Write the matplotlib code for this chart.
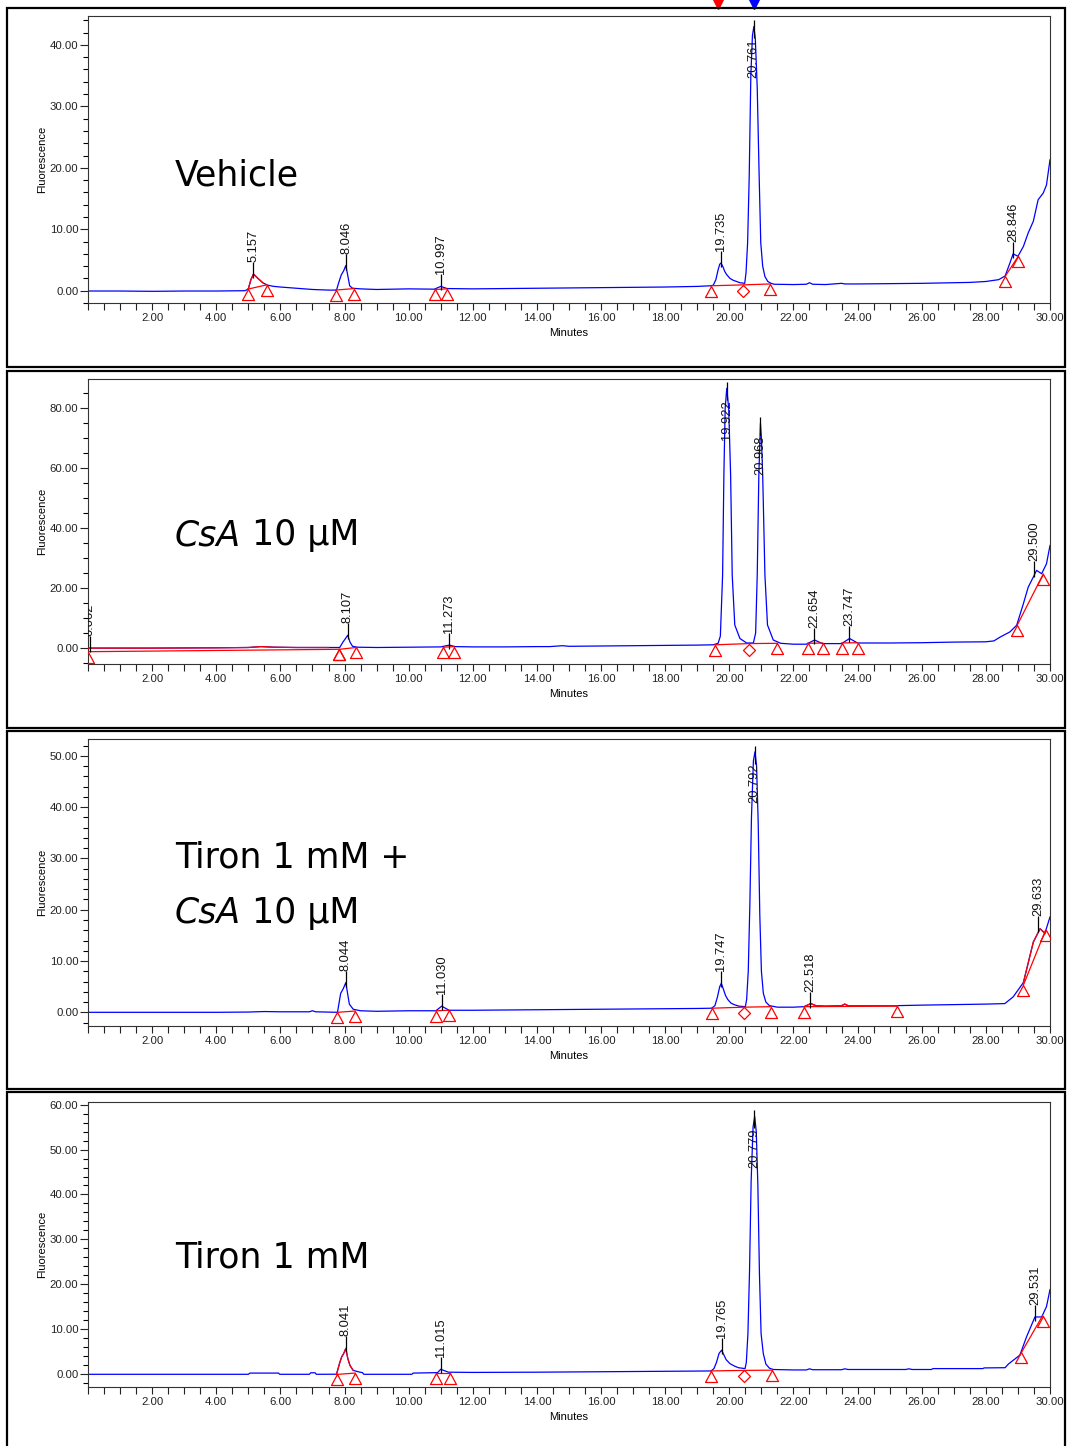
import matplotlib
matplotlib.use("Agg")
import matplotlib.pyplot as plt
import numpy as np
from matplotlib.path import Path
from matplotlib.patches import Rectangle
from matplotlib.ticker import MultipleLocator, FixedLocator, FormatStrFormatter
from matplotlib.transforms import offset_copy, blended_transform_factory

plt.rcParams['font.family'] = ['Liberation Sans', 'DejaVu Sans']

# ---- data (minutes, fluorescence) ----
veh_t = [0.0, 1.0, 2.0, 3.0, 4.0, 4.9, 5.0, 5.08, 5.16, 5.3, 5.45, 5.6, 5.8, 6.0, 6.5,
         7.0, 7.5, 7.75, 7.83, 7.9, 7.97, 8.04, 8.1, 8.16, 8.25, 8.5, 9.0, 10.0, 10.8, 11.0,
         11.2, 12.0, 14.0, 16.0, 18.0, 19.0, 19.4, 19.5, 19.58, 19.65, 19.7, 19.74, 19.8, 19.86, 19.92,
         20.02, 20.12, 20.33, 20.48, 20.52, 20.57, 20.62, 20.67, 20.72, 20.765, 20.81, 20.87, 20.93, 20.98, 21.04,
         21.11, 21.2, 21.3, 21.4, 22.0, 22.4, 22.5, 22.6, 23.0, 23.5, 23.6, 24.0, 25.0, 26.0, 27.0,
         27.5, 28.0, 28.4, 28.6, 28.75, 28.85, 29.0, 29.17, 29.32, 29.48, 29.63, 29.79, 29.89, 30.0]
veh_v = [-0.05, -0.05, -0.1, -0.05, -0.05, 0.0, 0.3, 1.8, 2.7, 2.0, 1.3, 0.9, 0.7, 0.6, 0.4,
         0.2, 0.1, 0.1, 1.5, 2.6, 3.2, 4.1, 2.5, 0.8, 0.4, 0.3, 0.2, 0.3, 0.25, 0.7,
         0.35, 0.3, 0.4, 0.5, 0.6, 0.7, 0.8, 0.9, 1.8, 3.4, 4.3, 4.5, 3.9, 3.1, 2.6,
         2.0, 1.7, 1.3, 1.2, 2.9, 7.8, 18.6, 34.9, 41.5, 43.0, 41.0, 33.0, 18.6, 7.8, 4.0,
         2.3, 1.5, 1.2, 1.05, 1.0, 1.05, 1.3, 1.05, 1.0, 1.2, 1.1, 1.1, 1.15, 1.2, 1.3,
         1.35, 1.5, 1.8, 2.4, 4.5, 6.0, 5.6, 7.2, 9.4, 11.3, 14.8, 15.9, 17.2, 21.3]

csa_t = [0.0, 1.0, 2.0, 3.0, 4.0, 5.0, 5.4, 5.8, 6.5, 7.5, 7.85, 7.95, 8.03, 8.1, 8.17,
         8.25, 8.4, 9.0, 10.0, 11.0, 11.27, 11.45, 12.0, 13.0, 14.0, 14.4, 14.8, 15.0, 16.0, 17.0,
         18.0, 19.0, 19.5, 19.65, 19.72, 19.79, 19.83, 19.87, 19.92, 19.98, 20.04, 20.09, 20.17, 20.33, 20.54,
         20.75, 20.82, 20.87, 20.92, 20.97, 21.0, 21.04, 21.11, 21.19, 21.37, 21.6, 22.0, 22.4, 22.66, 22.9,
         23.5, 23.75, 24.0, 25.0, 26.0, 27.0, 28.0, 28.25, 28.45, 28.75, 28.96, 29.17, 29.32, 29.48, 29.58,
         29.74, 29.89, 30.0]
csa_v = [0.0, 0.0, 0.0, 0.05, 0.1, 0.2, 0.5, 0.3, 0.2, 0.2, 0.2, 2.0, 3.2, 4.3, 2.0,
         0.6, 0.3, 0.2, 0.3, 0.4, 1.0, 0.5, 0.4, 0.4, 0.5, 0.5, 0.8, 0.6, 0.7, 0.8,
         0.9, 1.0, 1.1, 1.6, 4.0, 24.3, 57.7, 79.9, 86.6, 79.9, 57.7, 24.3, 7.7, 3.2, 1.7,
         1.7, 5.0, 24.3, 57.7, 74.9, 70.0, 57.7, 24.3, 7.7, 2.7, 1.6, 1.3, 1.3, 2.7, 1.5,
         1.5, 3.2, 1.7, 1.7, 1.8, 2.0, 2.1, 2.4, 3.7, 5.4, 7.6, 14.8, 20.3, 23.7, 25.9,
         24.8, 28.1, 34.2]

tc_t = [0.0, 2.0, 4.0, 5.0, 5.5, 6.0, 6.9, 7.0, 7.1, 7.78, 7.88, 7.96, 8.04, 8.1, 8.15,
        8.27, 8.5, 9.0, 10.0, 10.85, 11.03, 11.26, 12.0, 14.0, 16.0, 18.0, 19.0, 19.45, 19.55, 19.63,
        19.7, 19.75, 19.81, 19.88, 19.95, 20.05, 20.15, 20.3, 20.5, 20.54, 20.59, 20.64, 20.69, 20.75, 20.8,
        20.85, 20.9, 20.95, 21.0, 21.06, 21.14, 21.25, 21.5, 22.0, 22.33, 22.54, 22.7, 23.0, 23.5, 23.6,
        23.7, 24.5, 25.24, 26.0, 27.0, 28.0, 28.59, 28.85, 29.17, 29.48, 29.69, 29.84, 30.0]
tc_v = [0.0, 0.0, 0.0, 0.05, 0.15, 0.1, 0.1, 0.3, 0.1, 0.0, 3.7, 4.6, 5.8, 3.5, 1.6,
        0.6, 0.3, 0.2, 0.3, 0.3, 1.2, 0.4, 0.4, 0.5, 0.6, 0.7, 0.75, 0.8, 1.3, 3.0,
        5.0, 5.65, 4.6, 3.3, 2.5, 1.8, 1.5, 1.2, 1.1, 2.5, 8.0, 21.0, 38.0, 49.0, 50.8,
        48.0, 37.0, 19.0, 8.0, 3.7, 2.0, 1.3, 1.0, 1.0, 1.1, 1.7, 1.3, 1.2, 1.3, 1.6,
        1.3, 1.3, 1.3, 1.4, 1.5, 1.6, 1.7, 3.0, 5.8, 13.7, 16.3, 15.4, 18.6]

ti_t = [0.0, 5.0, 5.05, 5.94, 5.98, 6.9, 6.95, 7.08, 7.12, 7.75, 7.85, 7.91, 7.97, 8.04, 8.1,
        8.17, 8.27, 8.48, 8.56, 8.6, 10.1, 10.14, 10.9, 11.0, 11.24, 12.0, 14.0, 16.0, 18.0, 19.0,
        19.43, 19.52, 19.6, 19.68, 19.76, 19.82, 19.9, 20.02, 20.15, 20.28, 20.49, 20.53, 20.58, 20.63, 20.68,
        20.74, 20.79, 20.84, 20.89, 20.94, 20.99, 21.06, 21.14, 21.25, 21.37, 22.0, 22.4, 22.5, 22.6, 23.5,
        23.6, 23.7, 25.5, 25.6, 25.7, 26.3, 26.35, 27.9, 27.95, 28.6, 28.7, 29.06, 29.27, 29.53, 29.74,
        29.89, 30.0]
ti_v = [-0.07, -0.07, 0.2, 0.2, -0.07, -0.07, 0.27, 0.27, -0.07, -0.05, 2.5, 3.8, 4.5, 5.7, 3.5,
        1.9, 0.8, 0.4, 0.3, -0.07, -0.07, 0.2, 0.3, 1.05, 0.4, 0.35, 0.4, 0.5, 0.6, 0.65,
        0.68, 1.2, 2.6, 4.6, 5.3, 4.4, 3.2, 2.3, 1.8, 1.4, 1.2, 2.6, 9.0, 23.0, 43.0,
        55.0, 57.4, 54.0, 42.0, 22.0, 9.0, 4.5, 2.2, 1.3, 1.0, 0.9, 0.9, 1.15, 0.95, 0.95,
        1.15, 1.0, 1.0, 1.15, 1.0, 1.0, 1.2, 1.2, 1.35, 1.4, 2.2, 4.2, 8.3, 12.7, 12.7,
        15.0, 18.8]

# integration baselines: ends = triangles, interior points = drop lines (diamonds)
veh_base = [[(4.98, 0.25), (5.57, 0.95)], [(7.72, 0.1), (8.30, 0.35)],
            [(10.82, 0.2), (11.19, 0.3)], [(19.43, 0.8), (20.43, 0.95), (21.27, 1.1)],
            [(28.61, 2.4), (29.01, 5.6)]]
csa_base = [[(0.0, -1.2), (7.84, -0.4)], [(7.84, -0.4), (8.36, 0.2)],
            [(11.08, 0.3), (11.41, 0.5)], [(19.55, 1.1), (20.61, 1.5), (21.5, 1.6)],
            [(22.44, 1.6), (22.91, 1.7)], [(23.5, 1.7), (24.0, 1.8)],
            [(28.98, 7.7), (29.79, 24.7)]]
tc_base = [[(7.78, 0.0), (8.33, 0.25)], [(10.85, 0.3), (11.26, 0.4)],
           [(19.45, 0.8), (20.47, 1.0), (21.3, 1.1)], [(22.33, 1.1), (25.24, 1.2)],
           [(29.17, 5.3), (29.86, 16.0)]]
ti_base = [[(7.75, -0.1), (8.33, 0.2)], [(10.84, 0.2), (11.29, 0.2)],
           [(19.43, 0.68), (20.47, 0.8), (21.34, 0.85)], [(29.11, 4.8), (29.77, 13.0)]]

# peak ranges drawn in red
veh_red = [(4.98, 5.57)]
csa_red = [(0.0, 7.84)]
tc_red = [(22.33, 25.24), (29.17, 29.86)]
ti_red = [(7.75, 8.33)]

# retention time labels (rt, apex)
veh_peaks = [(5.157, 2.7), (8.046, 4.1), (10.997, 0.7), (19.735, 4.5), (20.761, 43.0), (28.846, 6.0)]
csa_peaks = [(0.062, 0.1), (8.107, 4.3), (11.273, 1.0), (19.922, 86.6), (20.968, 74.9),
             (22.654, 2.7), (23.747, 3.2), (29.500, 25.0)]
tc_peaks = [(8.044, 5.8), (11.030, 1.2), (19.747, 5.65), (20.792, 50.8), (22.518, 1.6), (29.633, 16.4)]
ti_peaks = [(8.041, 5.7), (11.015, 1.05), (19.765, 5.3), (20.779, 57.4), (29.531, 12.7)]
tall_peaks = [20.761, 19.922, 20.968, 20.792, 20.779]

event_times = [19.65, 20.77]
event_colors = ['red', 'blue']

W, H = 1067, 1446
fig = plt.figure(figsize=(W / 100, H / 100), dpi=100)

# markers hanging below their point (1 path unit = 1 px)
tri = Path([(0, 0), (-6, -11), (6, -11), (0, 0)], closed=True)
dia = Path([(0, 0), (-6, -6), (0, -12), (6, -6), (0, 0)], closed=True)
tick_up = Path([(0, -4), (0, 12)])
tick_dn = Path([(0, 6), (0, -12)])

panels = [
    dict(t=veh_t, v=veh_v, base=veh_base, red=veh_red, peaks=veh_peaks,
         px=(16, 303), box=(8, 367), ylim=(-2, 44.7), major=10, minor=2,
         title=[(185, [("Vehicle", False)])]),
    dict(t=csa_t, v=csa_v, base=csa_base, red=csa_red, peaks=csa_peaks,
         px=(379, 664), box=(371, 728), ylim=(-5.3, 89.7), major=20, minor=5,
         title=[(545, [("CsA", True), (" 10 μM", False)])]),
    dict(t=tc_t, v=tc_v, base=tc_base, red=tc_red, peaks=tc_peaks,
         px=(739, 1026), box=(731, 1089), ylim=(-2.67, 53.3), major=10, minor=2,
         title=[(868, [("Tiron 1 mM +", False)]), (923, [("CsA", True), (" 10 μM", False)])]),
    dict(t=ti_t, v=ti_v, base=ti_base, red=ti_red, peaks=ti_peaks,
         px=(1102, 1387), box=(1092, 1470), ylim=(-2.9, 60.6), major=10, minor=2,
         title=[(1268, [("Tiron 1 mM", False)])]),
]

axes = []
for p in panels:
    top, bot = p['px']
    ax = fig.add_axes([88 / W, 1 - bot / H, (1050 - 88) / W, (bot - top) / H])
    axes.append(ax)
    t = np.array(p['t'])
    v = np.array(p['v'])

    ax.plot(t, v, color='#0000ff', lw=0.9, zorder=2)
    for a, b in p['red']:
        m = (t >= a) & (t <= b)
        ax.plot(t[m], v[m], color='#ff0000', lw=0.9, zorder=3)

    for seg in p['base']:
        xs, ys = zip(*seg)
        ax.plot(xs, ys, color='#ff0000', lw=0.9, zorder=3)
        ax.plot([xs[0], xs[-1]], [ys[0], ys[-1]], ls='none', marker=tri, ms=15.84,
                mfc='none', mec='#ff0000', mew=0.9, zorder=4)
        if len(seg) > 2:
            ax.plot(xs[1:-1], ys[1:-1], ls='none', marker=dia, ms=17.28,
                    mfc='none', mec='#ff0000', mew=0.9, zorder=4)

    for rt, apex in p['peaks']:
        down = rt in tall_peaks
        ax.plot([rt], [apex], ls='none', marker=tick_dn if down else tick_up, ms=17.28,
                mec='black', mew=0.9, zorder=5)
        dy = -12 if down else 12
        tr = offset_copy(ax.transData, fig=fig, x=0, y=dy, units='dots')
        txt = ax.text(rt, apex, f"{rt:.3f}", rotation=90, ha='center',
                      va='top' if down else 'bottom', fontsize=9.3, color='#111111',
                      transform=tr, zorder=6)
        txt.set_clip_box(ax.bbox)
        txt.set_clip_on(True)

    ax.set_xlim(0, 30)
    ax.set_ylim(*p['ylim'])
    ax.xaxis.set_major_locator(FixedLocator(np.arange(2, 31, 2)))
    ax.xaxis.set_minor_locator(MultipleLocator(0.5))
    ax.yaxis.set_major_locator(MultipleLocator(p['major']))
    ax.yaxis.set_minor_locator(MultipleLocator(p['minor']))
    ax.xaxis.set_major_formatter(FormatStrFormatter('%.2f'))
    ax.yaxis.set_major_formatter(FormatStrFormatter('%.2f'))
    ax.tick_params(axis='x', which='both', direction='out', length=5, width=0.8,
                   labelsize=8.2, pad=2, colors='#222222')
    ax.tick_params(axis='y', which='major', direction='out', length=6, width=0.8,
                   labelsize=8.2, pad=1, colors='#222222')
    ax.tick_params(axis='y', which='minor', direction='out', length=3.5, width=0.8)
    for s in ax.spines.values():
        s.set_linewidth(0.8)
        s.set_color('#333333')
    ax.set_xlabel('Minutes', fontsize=8, labelpad=4)
    ax.set_ylabel('Fluorescence', fontsize=8)
    ax.yaxis.set_label_coords((47.5 - 88) / 962, 0.5)

    # condition name, italic parts chained after the previous piece
    for base_y, parts in p['title']:
        prev = None
        for s, it in parts:
            kw = dict(fontsize=25, family='DejaVu Sans', style='italic' if it else 'normal',
                      color='black')
            if prev is None:
                prev = fig.text(175 / W, 1 - base_y / H, s, ha='left', va='baseline', **kw)
            else:
                prev = fig.add_artist(plt.Annotation(s, xy=(1, 0), xycoords=prev,
                                                     ha='left', va='bottom', **kw))

    # outer frame
    b0, b1 = p['box']
    fig.add_artist(Rectangle((7 / W, 1 - b1 / H), (1065 - 7) / W, (b1 - b0) / H,
                             transform=fig.transFigure, fill=False, lw=1.6, ec='black'))

# event marks above the first chromatogram
bt = blended_transform_factory(axes[0].transData, fig.transFigure)
for et, ec in zip(event_times, event_colors):
    axes[0].plot([et], [(H - 3) / H], ls='none', marker='v', ms=8, color=ec,
                 transform=bt, clip_on=False)

fig.savefig('out.png', dpi=100)
